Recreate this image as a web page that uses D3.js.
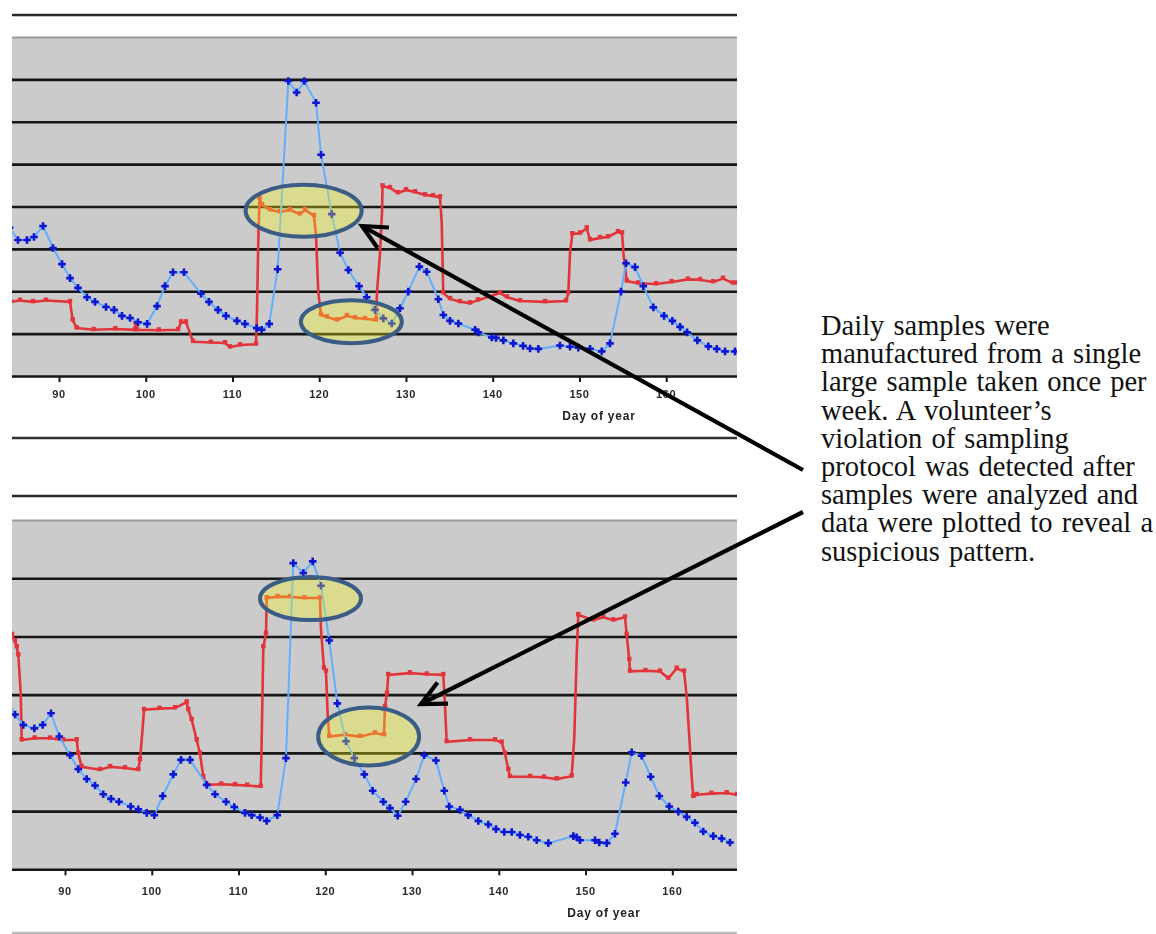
<!DOCTYPE html>
<html>
<head>
<meta charset="utf-8">
<script src="https://cdn.jsdelivr.net/npm/d3@7"></script>
<style>
  body { margin: 0; background: #fff; }
  svg { display: block; }
</style>
</head>
<body>
<div id="chart"></div>
<script>
// ---- data (day of year, value in gridline units) ----
var xTicks = [90, 100, 110, 120, 130, 140, 150, 160];

// upper panel: daily samples, plotted on a 0..8 scale
var topBlue = [
  [84.3, 3.5], [85.27, 3.21], [86.31, 3.21], [87.12, 3.28], [88.16, 3.54], [89.31, 3.02],
  [90.35, 2.64], [91.27, 2.31], [92.19, 2.08], [93.23, 1.86], [94.15, 1.75], [95.42, 1.63],
  [96.34, 1.56], [97.26, 1.42], [98.19, 1.37], [99.11, 1.27], [100.15, 1.23], [101.3, 1.65],
  [102.22, 2.12], [103.14, 2.45], [104.41, 2.45], [106.37, 1.94], [107.29, 1.75], [108.33, 1.56],
  [109.25, 1.42], [110.52, 1.3], [111.44, 1.23], [112.79, 1.13], [113.37, 1.09], [114.24, 1.23],
  [115.21, 2.52], [116.44, 6.96], [117.4, 6.69], [118.28, 6.96], [119.63, 6.45], [120.21, 5.22],
  [121.44, 3.82], [122.4, 2.91], [123.36, 2.5], [124.59, 2.12], [125.47, 1.86], [126.43, 1.56],
  [127.39, 1.36], [128.36, 1.24], [129.31, 1.6], [130.27, 1.99], [131.54, 2.58], [132.39, 2.46],
  [133.73, 1.81], [134.31, 1.44], [135.08, 1.3], [136.04, 1.24], [137.97, 1.09], [138.35, 1.03],
  [139.89, 0.91], [140.38, 0.9], [141.23, 0.84], [142.38, 0.77], [143.5, 0.71], [144.31, 0.65],
  [145.26, 0.64], [147.75, 0.72], [148.91, 0.69], [149.87, 0.67], [151.22, 0.64], [152.57, 0.58],
  [153.52, 0.77], [154.79, 1.99], [155.37, 2.66], [156.4, 2.57], [157.36, 2.12], [158.52, 1.62],
  [159.75, 1.42], [160.71, 1.3], [161.6, 1.16], [162.41, 1.03], [163.59, 0.84], [164.86, 0.7],
  [165.83, 0.64], [166.78, 0.58], [167.93, 0.58]
];

var topRed = [
  [84.4, 1.75], [85.5, 1.78], [87.0, 1.75], [88.5, 1.78], [91.27, 1.75], [91.58, 1.32], [92.04, 1.13],
  [94.0, 1.09], [96.5, 1.11], [98.76, 1.09], [98.82, 1.25], [99.0, 1.09], [101.5, 1.08],
  [103.72, 1.09], [104.07, 1.27], [104.64, 1.27], [105.45, 0.81], [107.5, 0.79], [109.14, 0.78],
  [109.72, 0.68], [110.87, 0.73], [112.71, 0.75], [112.83, 1.56], [112.98, 3.26], [113.12, 4.19],
  [113.4, 4.04], [114.32, 3.92], [115.48, 3.87], [116.63, 3.92], [117.78, 3.82], [118.36, 3.92],
  [119.4, 3.78], [119.63, 3.3], [119.89, 1.98], [120.21, 1.44], [120.9, 1.39], [122.05, 1.32],
  [123.2, 1.42], [124.13, 1.37], [125.28, 1.35], [126.55, 1.32], [126.66, 1.98], [127.01, 2.9],
  [127.24, 3.87], [127.3, 4.48], [128.16, 4.44], [129.08, 4.32], [130.0, 4.39], [131.04, 4.34],
  [132.19, 4.27], [133.12, 4.25], [133.92, 4.22], [134.12, 3.63], [134.3, 1.96], [135.08, 1.82],
  [136.23, 1.75], [137.38, 1.72], [138.31, 1.79], [140.84, 1.96], [141.65, 1.86], [143.15, 1.77],
  [146.03, 1.75], [148.45, 1.77], [148.72, 1.96], [148.91, 2.9], [149.18, 3.35], [150.07, 3.37],
  [150.84, 3.49], [151.22, 3.21], [152.37, 3.26], [153.29, 3.28], [154.44, 3.4], [154.91, 3.37],
  [155.08, 2.88], [155.45, 2.24], [156.75, 2.19], [158.83, 2.17], [160.63, 2.22], [162.51, 2.28],
  [163.9, 2.27], [165.4, 2.22], [166.55, 2.3], [167.7, 2.19], [168.2, 2.19]
];

// lower panel: same kind of data, plotted on a 0..6 scale
var bottomBlue = [
  [83.2, 2.95], [84.24, 2.66], [85.19, 2.48], [86.46, 2.42], [87.43, 2.48], [88.39, 2.68],
  [89.34, 2.28], [90.58, 1.96], [91.53, 1.72], [92.5, 1.55], [93.46, 1.44], [94.41, 1.29],
  [95.3, 1.21], [96.22, 1.16], [97.57, 1.08], [98.45, 1.03], [99.42, 0.97], [100.29, 0.93],
  [101.26, 1.26], [102.48, 1.63], [103.37, 1.88], [104.41, 1.88], [106.33, 1.45], [107.29, 1.29],
  [108.56, 1.16], [109.51, 1.07], [110.75, 0.97], [111.52, 0.93], [112.48, 0.89], [113.25, 0.83],
  [114.47, 0.93], [115.47, 1.91], [116.31, 5.26], [117.47, 5.09], [118.55, 5.29], [119.51, 4.87],
  [120.46, 3.93], [121.39, 2.85], [122.39, 2.2], [123.34, 1.91], [124.5, 1.63], [125.47, 1.35],
  [126.69, 1.16], [127.46, 1.05], [128.35, 0.92], [129.27, 1.16], [130.46, 1.55], [131.41, 1.96],
  [132.76, 1.87], [133.72, 1.35], [134.29, 1.08], [135.53, 1.02], [136.48, 0.93], [137.64, 0.83],
  [138.79, 0.77], [139.68, 0.69], [140.63, 0.64], [141.49, 0.64], [142.44, 0.59], [143.4, 0.56],
  [144.37, 0.5], [145.71, 0.45], [148.59, 0.57], [148.98, 0.55], [149.36, 0.5], [151.09, 0.5],
  [151.58, 0.46], [152.44, 0.45], [153.39, 0.61], [154.63, 1.49], [155.32, 2.01], [156.47, 1.95],
  [157.51, 1.59], [158.5, 1.26], [159.65, 1.08], [160.69, 0.99], [161.66, 0.9], [162.61, 0.8],
  [163.57, 0.65], [164.72, 0.57], [165.69, 0.53], [166.65, 0.46]
];

var bottomRed = [
  [83.89, 4.03], [84.24, 3.92], [84.43, 3.82], [84.62, 3.68], [84.89, 3.05], [85.01, 2.22],
  [86.5, 2.25], [88.27, 2.25], [89.8, 2.22], [91.35, 2.22], [91.53, 1.99], [91.92, 1.76],
  [94.03, 1.71], [95.19, 1.76], [96.92, 1.74], [98.45, 1.71], [98.64, 1.88], [98.84, 2.22],
  [99.11, 2.74], [100.9, 2.76], [102.68, 2.77], [104.03, 2.87], [104.21, 2.74], [104.6, 2.57],
  [105.18, 2.22], [105.56, 1.99], [105.94, 1.59], [106.33, 1.45], [108.0, 1.46], [109.59, 1.45],
  [111.0, 1.44], [112.56, 1.42], [112.67, 2.22], [112.86, 3.82], [113.17, 4.05], [113.25, 4.66],
  [114.5, 4.68], [115.93, 4.68], [117.6, 4.66], [119.39, 4.66], [119.51, 4.11], [119.85, 3.45],
  [120.08, 3.4], [120.28, 2.65], [120.46, 2.28], [122.27, 2.31], [124.0, 2.28], [125.73, 2.34],
  [126.77, 2.31], [126.88, 2.79], [127.11, 3.02], [127.26, 3.34], [129.76, 3.37], [131.7, 3.35],
  [133.6, 3.34], [133.8, 2.82], [133.99, 2.19], [136.68, 2.22], [139.56, 2.22], [140.33, 2.18],
  [140.71, 1.99], [141.1, 1.71], [141.29, 1.59], [143.6, 1.59], [145.2, 1.58], [146.67, 1.55],
  [148.4, 1.6], [148.7, 2.25], [148.98, 3.68], [149.16, 4.37], [150.89, 4.28], [152.04, 4.33],
  [153.2, 4.28], [154.55, 4.33], [154.74, 4.03], [155.04, 3.6], [155.12, 3.4], [156.9, 3.41],
  [158.58, 3.4], [159.54, 3.28], [160.51, 3.45], [161.35, 3.4], [161.66, 2.97], [161.96, 2.28],
  [162.23, 1.59], [162.42, 1.25], [162.81, 1.28], [164.5, 1.3], [166.27, 1.31], [167.45, 1.28]
];

// highlighted spots: [day, value] of the centre, radii in px
var topCircles = [
  { c: [118.2, 3.9], rx: 58, ry: 26 },
  { c: [123.7, 1.28], rx: 50.5, ry: 21.5 }
];
var bottomCircles = [
  { c: [118.3, 4.65], rx: 50.5, ry: 21.5 },
  { c: [125.0, 2.28], rx: 50.5, ry: 29 }
];

var noteLines = [
  "Daily samples were",
  "manufactured from a single",
  "large sample taken once per",
  "week. A volunteer\u2019s",
  "violation of sampling",
  "protocol was detected after",
  "samples were analyzed and",
  "data were plotted to reveal a",
  "suspicious pattern."
];

// ---- drawing ----
var W = 1156, H = 934;
var svg = d3.select("#chart").append("svg").attr("width", W).attr("height", H);

var defs = svg.append("defs");
defs.append("filter").attr("id", "soft")
  .append("feGaussianBlur").attr("stdDeviation", 0.45);

var panels = [
  { name: "top", frameTop: 15, frameBottom: 438, plotTop: 37, plotBottom: 376, yMax: 8,
    tickRange: [59, 666.2], blue: topBlue, red: topRed, circles: topCircles,
    tickLabelY: 398, titleY: 420, titleX: 599, bottomRule: "#333" },
  { name: "bottom", frameTop: 496, frameBottom: 933, plotTop: 520, plotBottom: 869.3, yMax: 6,
    tickRange: [65, 672.3], blue: bottomBlue, red: bottomRed, circles: bottomCircles,
    tickLabelY: 895, titleY: 917, titleX: 604, bottomRule: "#bbb" }
];

var plotLeft = 12, plotRight = 737;

panels.forEach(function (p) {
  var g = svg.append("g").attr("filter", "url(#soft)");

  // x scale is pinned by the tick positions, y by the gridlines
  var x = d3.scaleLinear().domain([90, 160]).range(p.tickRange);
  var y = d3.scaleLinear().domain([0, p.yMax]).range([p.plotBottom, p.plotTop]);

  // frame rules above and below the chart object
  g.append("line").attr("x1", plotLeft).attr("x2", plotRight)
    .attr("y1", p.frameTop).attr("y2", p.frameTop)
    .attr("stroke", "#2b2b2b").attr("stroke-width", 2.5);
  g.append("line").attr("x1", plotLeft).attr("x2", plotRight)
    .attr("y1", p.frameBottom).attr("y2", p.frameBottom)
    .attr("stroke", p.bottomRule).attr("stroke-width", 2.5);

  // plot area
  g.append("rect").attr("x", plotLeft).attr("y", p.plotTop)
    .attr("width", plotRight - plotLeft).attr("height", p.plotBottom - p.plotTop)
    .attr("fill", "#cbcbcb");

  var clipId = "clip-" + p.name;
  defs.append("clipPath").attr("id", clipId).append("rect")
    .attr("x", plotLeft).attr("y", p.plotTop - 6)
    .attr("width", plotRight - plotLeft).attr("height", p.plotBottom - p.plotTop + 6);

  // horizontal gridlines
  var grid = d3.axisLeft(y).ticks(p.yMax).tickSize(-(plotRight - plotLeft)).tickFormat("");
  var gg = g.append("g").attr("transform", "translate(" + plotLeft + ",0)").call(grid);
  gg.select(".domain").remove();
  gg.selectAll(".tick line")
    .attr("stroke", function (d) { return d === p.yMax ? "#9a9a9a" : "#151515"; })
    .attr("stroke-width", function (d) { return d === p.yMax ? 2 : 2.6; });

  // x axis ticks + labels
  var xa = d3.axisBottom(x).tickValues(xTicks).tickSize(6).tickPadding(10);
  var ag = g.append("g").attr("transform", "translate(0," + p.plotBottom + ")").call(xa);
  ag.select(".domain").remove();
  ag.selectAll(".tick line").attr("stroke", "#151515").attr("stroke-width", 2);
  ag.selectAll(".tick text").remove();
  g.selectAll(".xlab").data(xTicks).enter().append("text")
    .attr("x", function (d) { return x(d); })
    .attr("y", p.tickLabelY)
    .attr("text-anchor", "middle")
    .attr("font-family", "Liberation Sans, Arial, sans-serif")
    .attr("font-size", 11).attr("font-weight", "bold")
    .attr("letter-spacing", 0.6).attr("fill", "#2a2a2a")
    .text(function (d) { return d; });

  g.append("text").attr("x", p.titleX).attr("y", p.titleY)
    .attr("text-anchor", "middle")
    .attr("font-family", "Liberation Sans, Arial, sans-serif")
    .attr("font-size", 12).attr("font-weight", "bold")
    .attr("letter-spacing", 0.8).attr("fill", "#222")
    .text("Day of year");

  var data = g.append("g").attr("clip-path", "url(#" + clipId + ")");

  var line = d3.line()
    .x(function (d) { return x(d[0]); })
    .y(function (d) { return y(d[1]); });

  // red step-like series (weekly sample split into daily ones)
  data.append("path").datum(p.red).attr("d", line)
    .attr("fill", "none").attr("stroke", "#e2343a").attr("stroke-width", 2.6)
    .attr("stroke-linejoin", "miter");
  // small square markers, only where the series sits on a level
  var flat = p.red.filter(function (d, i, a) {
    var prev = a[i - 1], next = a[i + 1];
    return (prev && Math.abs(prev[1] - d[1]) < 0.3) || (next && Math.abs(next[1] - d[1]) < 0.3);
  });
  data.selectAll(".rm").data(flat).enter().append("rect")
    .attr("x", function (d) { return x(d[0]) - 2.2; })
    .attr("y", function (d) { return y(d[1]) - 3; })
    .attr("width", 4.4).attr("height", 4.4)
    .attr("fill", "#e2343a");

  // blue series with + markers
  data.append("path").datum(p.blue).attr("d", line)
    .attr("fill", "none").attr("stroke", "#62adff").attr("stroke-width", 2);
  data.selectAll(".bm").data(p.blue).enter().append("path")
    .attr("d", function (d) {
      var cx = x(d[0]), cy = y(d[1]), s = 3.8;
      return "M" + (cx - s) + "," + cy + "H" + (cx + s) + "M" + cx + "," + (cy - s) + "V" + (cy + s);
    })
    .attr("stroke", "#0a14d2").attr("stroke-width", 2.6).attr("fill", "none");

  // translucent highlight ellipses (red shows through as orange)
  p.circles.forEach(function (c) {
    g.append("ellipse").attr("cx", x(c.c[0])).attr("cy", y(c.c[1]))
      .attr("rx", c.rx).attr("ry", c.ry)
      .attr("fill", "rgba(255,255,20,0.32)")
      .attr("stroke", "#3a5b84").attr("stroke-width", 4);
  });
});

// ---- annotation text ----
var note = svg.append("text")
  .attr("font-family", "Liberation Serif, Times New Roman, serif")
  .attr("font-size", 28.5).attr("word-spacing", 2).attr("fill", "#111");
noteLines.forEach(function (t, i) {
  note.append("tspan").attr("x", 821).attr("y", 335 + i * 28.2).text(t);
});

// ---- arrows from the note to the highlights ----
var arrows = [
  { from: [803, 470], to: [362, 226] },
  { from: [803, 512], to: [421, 704] }
];
arrows.forEach(function (a) {
  var dx = a.from[0] - a.to[0], dy = a.from[1] - a.to[1];
  var ang = Math.atan2(dy, dx), len = 27, spread = 0.45;
  var w1 = [a.to[0] + len * Math.cos(ang - spread), a.to[1] + len * Math.sin(ang - spread)];
  var w2 = [a.to[0] + len * Math.cos(ang + spread), a.to[1] + len * Math.sin(ang + spread)];
  svg.append("line").attr("x1", a.from[0]).attr("y1", a.from[1])
    .attr("x2", a.to[0]).attr("y2", a.to[1])
    .attr("stroke", "#000").attr("stroke-width", 4.2);
  svg.append("path")
    .attr("d", "M" + w1[0] + "," + w1[1] + "L" + a.to[0] + "," + a.to[1] + "L" + w2[0] + "," + w2[1])
    .attr("fill", "none").attr("stroke", "#000").attr("stroke-width", 4.2)
    .attr("stroke-linejoin", "miter");
});
</script>
</body>
</html>
